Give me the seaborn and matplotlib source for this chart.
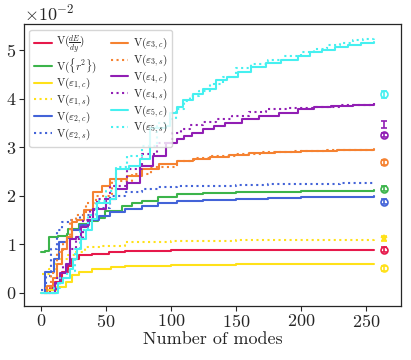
import matplotlib
matplotlib.use('Agg')
import matplotlib.pyplot as plt
import seaborn as sns
import pandas as pd

# step knots: (mode, value in units of 1e-2)
x_dEdy = [3, 7, 11, 16, 21, 24, 29, 39, 52, 65, 80, 100, 125, 150, 256]
y_dEdy = [0, 0.10, 0.22, 0.42, 0.56, 0.70, 0.77, 0.80, 0.84, 0.86, 0.87, 0.88, 0.885, 0.89, 0.89]

x_r2 = [0, 3, 6, 13, 20, 21, 29, 36, 44, 49, 62, 70, 78, 90, 105, 125, 150, 175, 200, 230, 256]
y_r2 = [0.84, 0.87, 1.14, 1.18, 1.21, 1.31, 1.42, 1.48, 1.55, 1.69, 1.79, 1.85, 1.90, 1.97, 2.03, 2.05, 2.07, 2.08, 2.09, 2.10, 2.11]

x_e1c = [0, 5, 12, 19, 24, 29, 39, 54, 65, 80, 100, 125, 150, 200, 256]
y_e1c = [0, 0.05, 0.12, 0.22, 0.36, 0.42, 0.49, 0.53, 0.55, 0.56, 0.57, 0.58, 0.59, 0.595, 0.60]

x_e1s = [1, 6, 11, 21, 26, 34, 47, 65, 80, 100, 125, 150, 200, 256]
y_e1s = [0.39, 0.49, 0.70, 0.77, 0.85, 0.94, 0.97, 1.04, 1.05, 1.06, 1.07, 1.08, 1.09, 1.10]

x_e2c = [2, 3, 10, 14, 20, 24, 30, 37, 45, 53, 65, 78, 90, 105, 125, 150, 175, 200, 230, 256]
y_e2c = [0, 0.42, 0.70, 1.05, 1.12, 1.30, 1.40, 1.50, 1.58, 1.66, 1.73, 1.79, 1.85, 1.90, 1.92, 1.94, 1.96, 1.97, 1.98, 1.99]

x_e2s = [0, 4, 8, 12, 16, 22, 30, 40, 53, 65, 78, 90, 105, 125, 150, 175, 200, 230, 256]
y_e2s = [0.05, 0.35, 0.90, 1.30, 1.45, 1.50, 1.60, 1.75, 2.00, 2.08, 2.14, 2.17, 2.20, 2.21, 2.22, 2.24, 2.25, 2.26, 2.27]

x_e3c = [2, 5, 9, 12, 16, 20, 24, 28, 33, 40, 47, 53, 66, 78, 91, 105, 117, 130, 145, 160, 180, 200, 228, 256]
y_e3c = [0, 0.15, 0.30, 0.60, 0.90, 1.15, 1.45, 1.50, 1.70, 2.07, 2.20, 2.34, 2.41, 2.55, 2.65, 2.72, 2.76, 2.80, 2.84, 2.87, 2.90, 2.92, 2.94, 2.96]

x_e3s = [3, 8, 12, 17, 22, 27, 35, 42, 55, 70, 85, 105, 118, 130, 150, 170, 195, 220, 256]
y_e3s = [0.10, 0.40, 0.85, 1.05, 1.50, 1.60, 1.85, 2.00, 2.30, 2.45, 2.60, 2.72, 2.77, 2.82, 2.86, 2.90, 2.92, 2.94, 2.97]

x_e4c = [8, 11, 15, 19, 22, 27, 31, 36, 40, 50, 58, 66, 76, 86, 96, 105, 110, 116, 125, 133, 142,
         155, 168, 183, 198, 210, 223, 240, 256]
y_e4c = [0, 0.20, 0.40, 0.60, 1.10, 1.15, 1.35, 1.50, 1.72, 1.93, 2.14, 2.27, 2.61, 2.82, 3.09, 3.16, 3.22, 3.30, 3.38, 3.44, 3.50,
         3.57, 3.64, 3.71, 3.78, 3.82, 3.85, 3.87, 3.88]

x_e4s = [6, 12, 17, 22, 27, 32, 38, 43, 53, 66, 78, 89, 101, 108, 115, 125, 135, 147, 160, 173, 190, 211, 230, 256]
y_e4s = [0, 0.30, 0.55, 0.90, 1.10, 1.50, 1.70, 1.93, 2.20, 2.55, 2.85, 3.09, 3.30, 3.38, 3.45, 3.52, 3.57, 3.64, 3.72, 3.78, 3.80, 3.82, 3.86, 3.90]

x_e5c = [0, 13, 17, 22, 25, 28, 31, 35, 39, 43, 53, 58, 68, 76, 84, 96, 99, 105, 109, 117, 125, 135, 143, 152,
         162, 173, 185, 198, 207, 216, 226, 236, 246, 256]
y_e5c = [0, 0.20, 0.30, 0.50, 0.70, 0.90, 1.10, 1.30, 1.52, 1.86, 1.93, 2.55, 2.61, 2.75, 3.40, 3.43, 3.71, 3.82, 3.98, 4.10, 4.20, 4.39, 4.45, 4.54,
         4.65, 4.74, 4.80, 4.87, 4.95, 5.01, 5.06, 5.11, 5.14, 5.17]

x_e5s = [0, 10, 15, 20, 26, 30, 36, 42, 50, 58, 66, 78, 89, 99, 104, 110, 115, 122, 130, 140, 150, 162, 175, 187,
         200, 210, 220, 230, 240, 248, 256]
y_e5s = [0, 0.10, 0.30, 0.45, 0.90, 1.30, 1.60, 1.90, 2.10, 2.60, 2.82, 3.02, 3.50, 3.57, 3.78, 3.95, 4.05, 4.15, 4.30, 4.45, 4.62, 4.72, 4.80, 4.88,
         4.95, 5.03, 5.10, 5.15, 5.20, 5.23, 5.27]

labels = [r'V($\frac{dE}{dy}$)', r'V($\{r^2\}$)',
          r'V($\varepsilon_{1,c}$)', r'V($\varepsilon_{1,s}$)',
          r'V($\varepsilon_{2,c}$)', r'V($\varepsilon_{2,s}$)',
          r'V($\varepsilon_{3,c}$)', r'V($\varepsilon_{3,s}$)',
          r'V($\varepsilon_{4,c}$)', r'V($\varepsilon_{4,s}$)',
          r'V($\varepsilon_{5,c}$)', r'V($\varepsilon_{5,s}$)']
xs = [x_dEdy, x_r2, x_e1c, x_e1s, x_e2c, x_e2s, x_e3c, x_e3s, x_e4c, x_e4s, x_e5c, x_e5s]
ys = [y_dEdy, y_r2, y_e1c, y_e1s, y_e2c, y_e2s, y_e3c, y_e3s, y_e4c, y_e4s, y_e5c, y_e5s]
colors = ['#e6194b', '#3cb44b', '#ffe119', '#ffe119', '#4363d8', '#4363d8',
          '#f58231', '#f58231', '#911eb4', '#911eb4', '#46f0f0', '#46f0f0']
styles = ['-', '-', '-', ':', '-', ':', '-', ':', '-', ':', '-', ':']

# reference points with error bars at the right edge
ref_x = 264
ref_vals = [4.09, 3.47, 3.25, 2.69, 2.14, 1.88, 1.12, 0.89, 0.51]
ref_errs = [0.07, 0.07, 0.05, 0.05, 0.05, 0.05, 0.06, 0.05, 0.05]
ref_colors = ['#46f0f0', '#911eb4', '#911eb4', '#f58231', '#3cb44b', '#4363d8', '#ffe119', '#e6194b', '#ffe119']
ref_marks = ['o', '', 'o', 'o', 'o', 'o', '*', 'o', 'o']

sns.set_style('ticks')
plt.rcParams['font.family'] = 'serif'
plt.rcParams['font.serif'] = ['cmr10']
plt.rcParams['mathtext.fontset'] = 'cm'
plt.rcParams['axes.formatter.use_mathtext'] = True
plt.rcParams['axes.unicode_minus'] = False

fig = plt.figure(figsize=(4.11, 3.6), dpi=100)
ax = fig.add_axes([0.058, 0.151, 0.918, 0.782])

for x, y, c, ls, lab in zip(xs, ys, colors, styles, labels):
    df = pd.DataFrame({'modes': x, 'V': [v * 1e-2 for v in y]})
    sns.lineplot(data=df, x='modes', y='V', ax=ax, color=c, linestyle=ls,
                 linewidth=1.5, drawstyle='steps-post', label=lab, sort=False)

for v, e, c, m in zip(ref_vals, ref_errs, ref_colors, ref_marks):
    ax.errorbar(ref_x, v * 1e-2, yerr=e * 1e-2, color=c, marker=m, ms=5,
                mfc='none', mew=1.2, capsize=2, elinewidth=1.2)

ax.ticklabel_format(axis='y', style='sci', scilimits=(0, 0))
ax.set_xlabel('Number of modes', fontsize=13, labelpad=1)
ax.set_ylabel('')
ax.set_xticks([0, 50, 100, 150, 200, 250])
ax.tick_params(labelsize=13, length=3.5, width=0.8, pad=2)
ax.yaxis.get_offset_text().set_fontsize(13)
for s in ax.spines.values():
    s.set_linewidth(0.9)

ax.legend(loc='upper left', ncol=2, fontsize=8, handlelength=1.6,
          columnspacing=1.2, labelspacing=0.05, handletextpad=0.4,
          borderpad=0.4, frameon=True, fancybox=True)

fig.savefig('out.png', dpi=100)
